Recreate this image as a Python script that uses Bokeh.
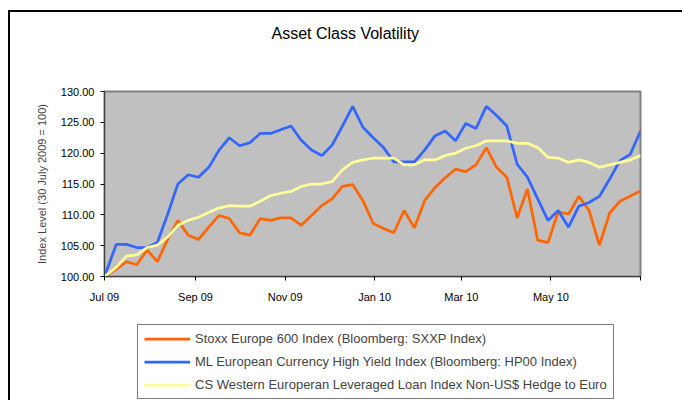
import pandas as pd
from bokeh.plotting import figure
from bokeh.layouts import column
from bokeh.models import (Range1d, FixedTicker, PrintfTickFormatter, Legend,
                          LegendItem, Title, ColumnDataSource)
from bokeh.embed import file_html
from bokeh.resources import INLINE

FONT = "Liberation Sans"

# ---- data ----
dates = ["2009-07-30"] + [d.strftime("%Y-%m-%d") for d in
                          pd.date_range("2009-08-07", "2010-07-30", freq="7D")]

stoxx = [100.0, 101.2, 102.4, 101.9, 104.3, 102.4, 106.0, 109.1, 106.7, 106.0,
         108.0, 109.9, 109.4, 107.1, 106.7, 109.4, 109.1, 109.5, 109.5, 108.3,
         109.9, 111.5, 112.6, 114.6, 114.9, 112.3, 108.6, 107.8, 107.1, 110.7,
         107.9, 112.3, 114.4, 116.0, 117.4, 117.0, 118.1, 120.9, 117.7, 116.1,
         109.5, 114.2, 105.9, 105.5, 110.5, 110.1, 113.0, 110.7, 105.1, 110.3,
         112.2, 113.0, 113.9]

ml_hy = [100.0, 105.2, 105.2, 104.7, 104.7, 105.5, 110.1, 115.0, 116.5, 116.1,
         117.7, 120.5, 122.5, 121.2, 121.7, 123.2, 123.2, 123.8, 124.4, 122.1,
         120.5, 119.6, 121.3, 124.4, 127.6, 124.2, 122.5, 120.9, 118.6, 118.6,
         118.6, 120.5, 122.8, 123.6, 122.0, 124.8, 124.0, 127.6, 126.1, 124.4,
         118.2, 116.1, 112.6, 109.1, 110.7, 108.0, 111.4, 112.0, 113.0, 115.8,
         118.8, 119.8, 123.6]

cs_loan = [100.0, 101.5, 103.3, 103.5, 104.7, 105.1, 106.4, 108.3, 109.1, 109.6,
           110.4, 111.1, 111.5, 111.4, 111.4, 112.2, 113.1, 113.5, 113.8, 114.6,
           115.0, 115.0, 115.4, 117.3, 118.5, 118.9, 119.2, 119.2, 119.2, 118.1,
           118.1, 118.9, 118.9, 119.6, 120.0, 120.8, 121.2, 122.0, 122.0, 122.0,
           121.6, 121.6, 120.9, 119.3, 119.2, 118.5, 118.9, 118.5, 117.7, 118.1,
           118.5, 118.9, 119.6]

series_names = ["Stoxx Europe 600 Index (Bloomberg: SXXP Index)",
                "ML European Currency High Yield Index (Bloomberg: HP00 Index)",
                "CS Western Europeran Leveraged Loan Index Non-US$ Hedge to Euro"]
series_cols = ["stoxx", "ml_hy", "cs_loan"]
series_colors = ["#FF6600", "#3366FF", "#FFFF99"]

x_tick_dates = ["2009-07-30", "2009-09-30", "2009-11-30", "2010-01-30",
                "2010-03-30", "2010-05-30", "2010-07-30"]
x_tick_labels = ["Jul 09", "Sep 09", "Nov 09", "Jan 10", "Mar 10", "May 10", ""]
y_ticks = [100, 105, 110, 115, 120, 125, 130]

title_text = "Asset Class Volatility"
y_label = "Index Level (30 July 2009 = 100)"

# ---- chart ----
x = pd.to_datetime(dates)
src = ColumnDataSource(dict(x=x, stoxx=stoxx, ml_hy=ml_hy, cs_loan=cs_loan))

p = figure(width=672, height=300, x_axis_type="datetime", title=None,
           x_range=Range1d(pd.Timestamp(x_tick_dates[0]), pd.Timestamp(x_tick_dates[-1])),
           y_range=Range1d(y_ticks[0], y_ticks[-1]),
           output_backend="svg", toolbar_location=None,
           min_border_left=94, min_border_right=42,
           min_border_top=79, min_border_bottom=36)

p.background_fill_color = "#C0C0C0"
p.border_fill_color = "white"
p.outline_line_color = "#808080"
p.outline_line_width = 2
p.xgrid.visible = False
p.ygrid.visible = False

# spacer panel between frame and title, then the title itself
p.add_layout(Title(text=" ", text_font_size="10px", standoff=37), "above")
p.add_layout(Title(text=title_text, align="left", text_font=FONT,
                   text_font_size="16px", text_font_style="normal",
                   text_color="black", offset=167, standoff=0), "above")

tick_ms = [pd.Timestamp(d).value // 10**6 for d in x_tick_dates]
p.xaxis.ticker = FixedTicker(ticks=tick_ms)
p.xaxis.major_label_overrides = {t: l for t, l in zip(tick_ms, x_tick_labels)}
p.yaxis.ticker = FixedTicker(ticks=y_ticks)
p.yaxis.formatter = PrintfTickFormatter(format="%.2f")

for ax in (p.xaxis[0], p.yaxis[0]):
    ax.axis_line_color = "#404040"
    ax.axis_line_width = 1
    ax.major_tick_line_color = "black"
    ax.major_tick_out = 4
    ax.major_tick_in = 0
    ax.minor_tick_line_color = None
    ax.major_label_text_font = FONT
    ax.major_label_text_font_size = "11px"
    ax.major_label_text_color = "black"

p.xaxis.major_label_standoff = 10
p.yaxis.major_label_standoff = 6
p.yaxis.axis_label = y_label
p.yaxis.axis_label_text_font = FONT
p.yaxis.axis_label_text_font_size = "11px"
p.yaxis.axis_label_text_font_style = "normal"
p.yaxis.axis_label_standoff = 10

for col, color in zip(series_cols, series_colors):
    p.line("x", col, source=src, line_color=color, line_width=2.75)

# ---- legend strip below the chart (frame aligned with the chart's) ----
p2 = figure(width=672, height=88, title=None, output_backend="svg",
            toolbar_location=None, x_axis_location=None, y_axis_location=None,
            min_border_left=94, min_border_right=42,
            min_border_top=0, min_border_bottom=0)
p2.outline_line_color = None
p2.xgrid.visible = False
p2.ygrid.visible = False
p2.background_fill_color = "white"
p2.border_fill_color = "white"

items = []
for name, color in zip(series_names, series_colors):
    # one-point line: draws nothing, only provides the legend sample
    r = p2.line(x=[0], y=[0], line_color=color, line_width=2.75)
    items.append(LegendItem(label=name, renderers=[r]))

legend = Legend(items=items, location=(33, 1), orientation="vertical")
legend.border_line_color = "black"
legend.border_line_width = 1
legend.background_fill_color = "white"
legend.background_fill_alpha = 1
legend.label_text_font = FONT
legend.label_text_font_size = "13px"
legend.glyph_width = 46
legend.glyph_height = 15
legend.label_height = 15
legend.label_standoff = 5
legend.padding = 6
legend.spacing = 8
legend.margin = 0
p2.add_layout(legend, "center")

layout = column(p, p2, spacing=0)
layout.styles = {"border-left": "2px solid black", "border-top": "2px solid black",
                 "margin-left": "8px", "margin-top": "10px"}

open("out.html", "w").write(file_html(layout, INLINE))
